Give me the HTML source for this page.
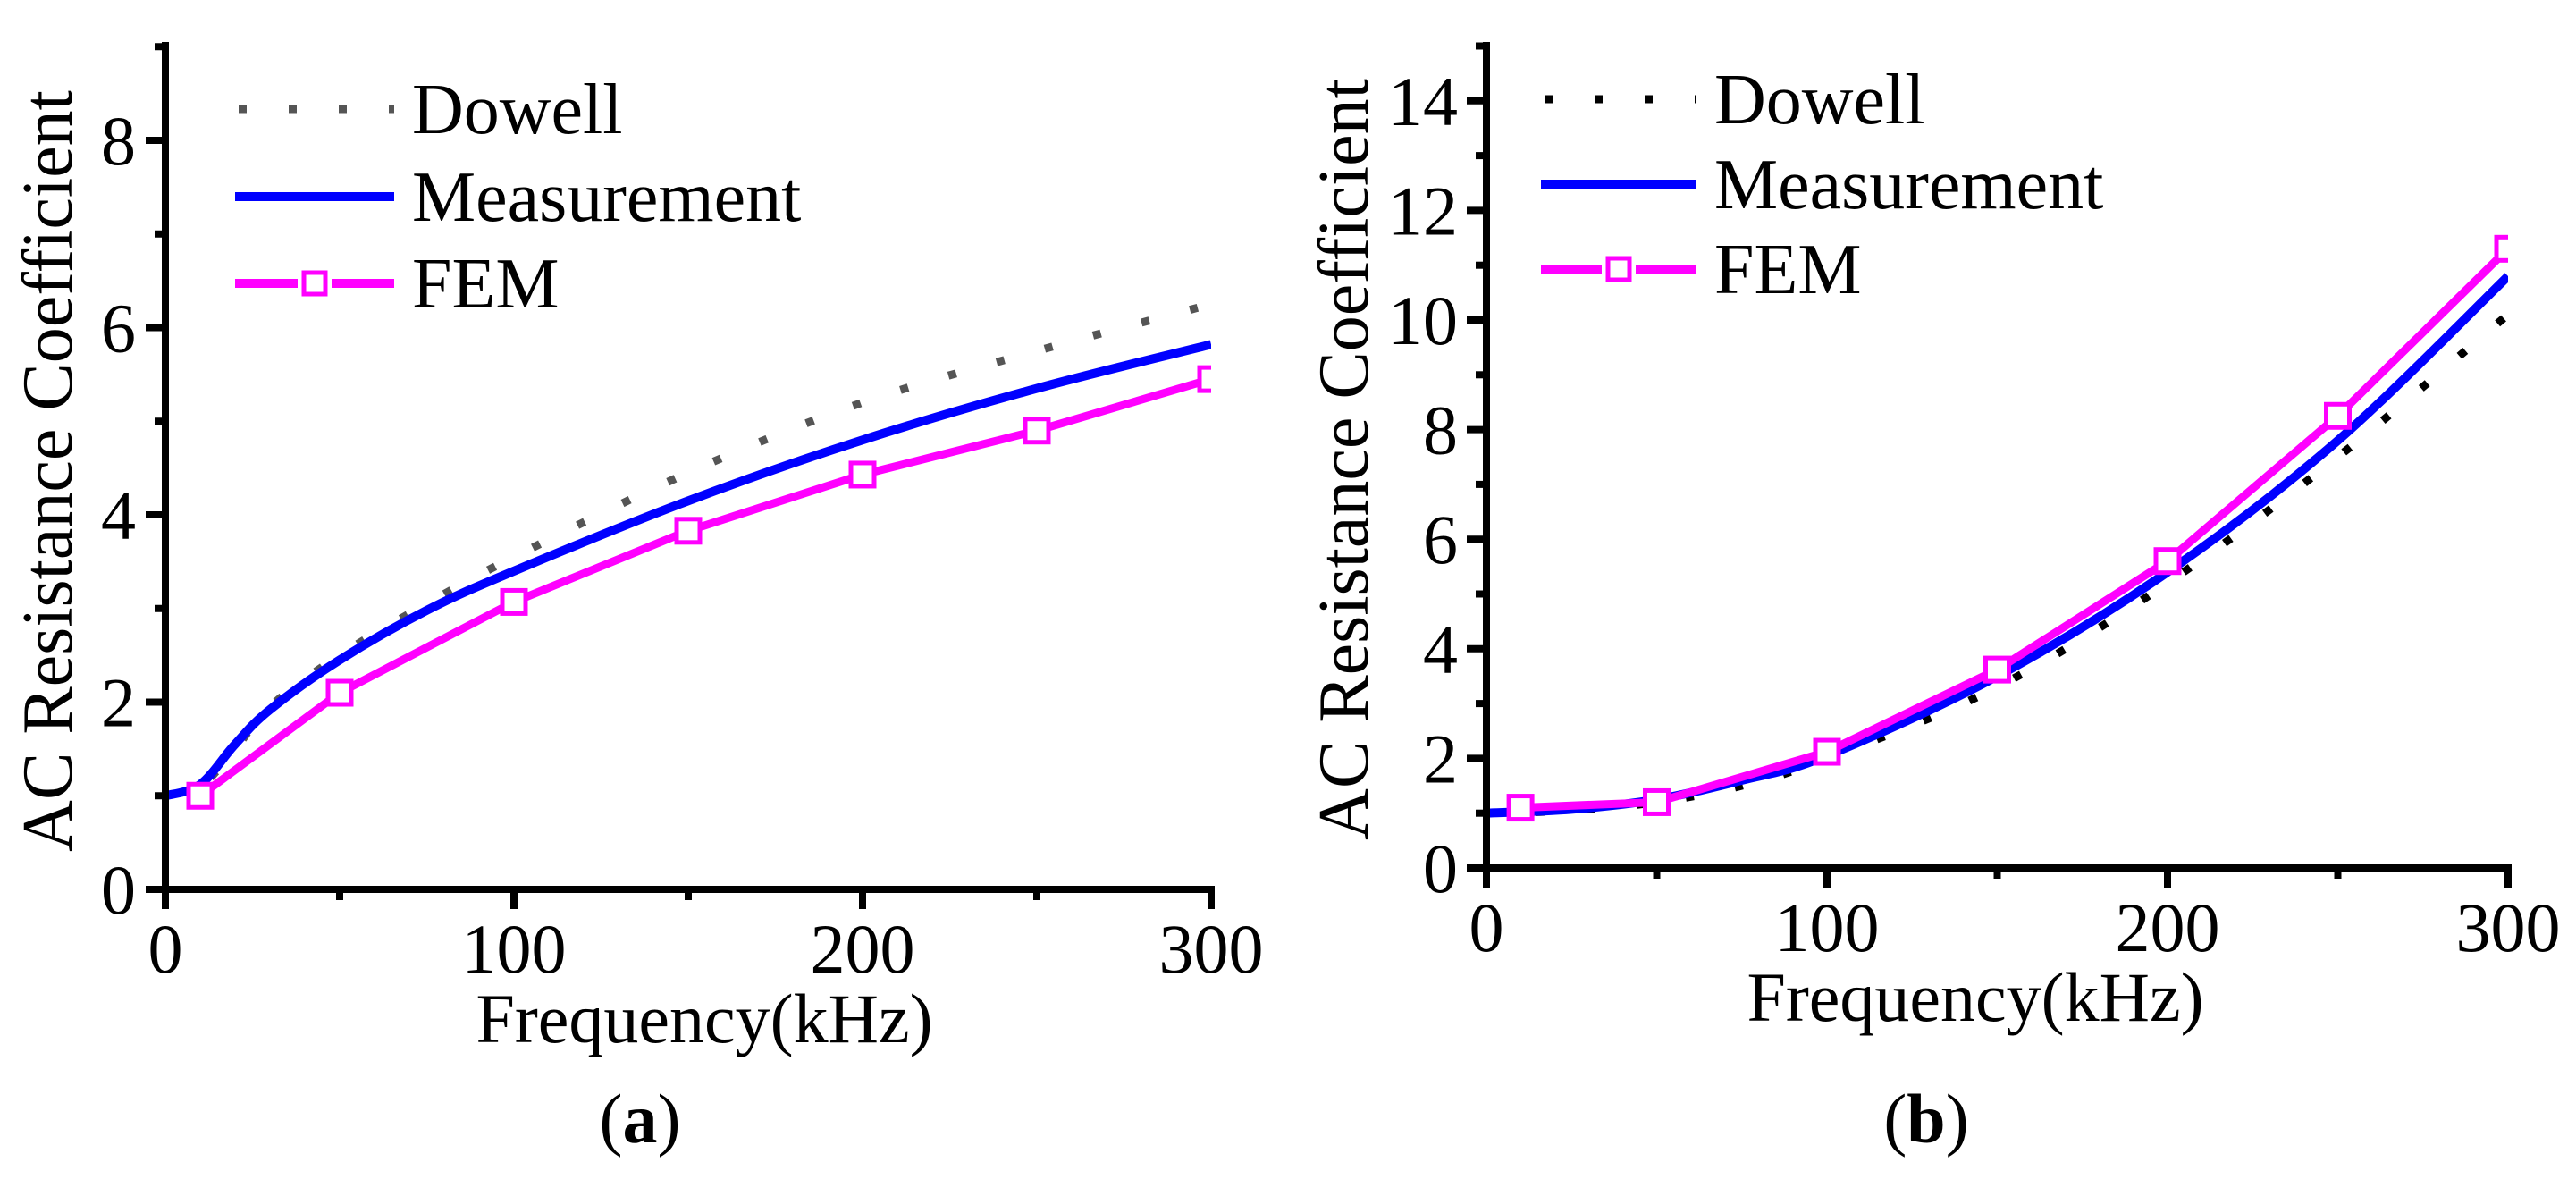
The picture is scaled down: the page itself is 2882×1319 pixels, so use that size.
<!DOCTYPE html>
<html><head><meta charset="utf-8"><style>
html,body{margin:0;padding:0;background:#fff;}
svg, svg text{font-family:"Liberation Serif","DejaVu Serif","Times New Roman",Times,serif;}
</style></head><body>
<svg id="fig" width="2882" height="1314" viewBox="0 0 2882 1314" xmlns="http://www.w3.org/2000/svg" font-family="'Liberation Serif', 'DejaVu Serif', serif">
<defs>
<clipPath id="clipA"><rect x="185" y="40" width="1170" height="960"/></clipPath>
<clipPath id="clipB"><rect x="1663" y="40" width="1143" height="935"/></clipPath>
</defs>
<g id="chartA"></g>
<g id="chartB"></g>
</svg>
<script>
// ---- Chart (a) data ----
const aDowellX = [0, 10, 20, 30, 50, 75, 100, 150, 200, 250, 300];
const aDowellY = [1.0, 1.1, 1.5, 1.95, 2.5, 3.05, 3.55, 4.45, 5.2, 5.75, 6.25];
const aMeasX = [0, 10, 20, 30, 50, 75, 100, 150, 200, 250, 300];
const aMeasY = [1.0, 1.12, 1.55, 1.92, 2.45, 2.98, 3.4, 4.15, 4.8, 5.35, 5.82];
const aFemX = [10, 50, 100, 150, 200, 250, 300];
const aFemY = [1.0, 2.1, 3.07, 3.83, 4.43, 4.9, 5.45];
const aYTicks = [0, 2, 4, 6, 8];
const aXTicks = [0, 100, 200, 300];
// ---- Chart (b) data ----
const bDowellX = [0, 25, 50, 75, 100, 150, 200, 250, 300];
const bDowellY = [1.0, 1.05, 1.2, 1.5, 2.0, 3.3, 5.2, 7.5, 10.1];
const bMeasX = [0, 25, 50, 75, 100, 150, 200, 250, 300];
const bMeasY = [1.0, 1.07, 1.25, 1.6, 2.05, 3.5, 5.4, 7.8, 10.8];
const bFemX = [10, 50, 100, 150, 200, 250, 300];
const bFemY = [1.1, 1.2, 2.12, 3.62, 5.6, 8.25, 11.3];
const bYTicks = [0, 2, 4, 6, 8, 10, 12, 14];
const bXTicks = [0, 100, 200, 300];

const NS = "http://www.w3.org/2000/svg";
const FF = "'Liberation Serif', 'DejaVu Serif', 'Times New Roman', serif";
function mk(tag, attrs, parent){
  const e = document.createElementNS(NS, tag);
  for (const k in attrs) e.setAttribute(k, attrs[k]);
  if (tag === 'text') e.setAttribute('font-family', FF);
  parent.appendChild(e);
  return e;
}
function smoothPath(xs, ys, sx, sy){
  const p = xs.map((x,i)=>[sx(x), sy(ys[i])]);
  let d = "M" + p[0][0] + "," + p[0][1];
  for (let i=0;i<p.length-1;i++){
    const p0 = p[i-1]||p[i], p1=p[i], p2=p[i+1], p3=p[i+2]||p2;
    const c1x = p1[0]+(p2[0]-p0[0])/6, c1y = p1[1]+(p2[1]-p0[1])/6;
    const c2x = p2[0]-(p3[0]-p1[0])/6, c2y = p2[1]-(p3[1]-p1[1])/6;
    d += " C"+c1x+","+c1y+" "+c2x+","+c2y+" "+p2[0]+","+p2[1];
  }
  return d;
}

function drawChart(g, cfg){
  const sx = v => cfg.x0 + (v - 0) / 300 * (cfg.x1 - cfg.x0);
  const sy = v => cfg.y0 - v * cfg.pu;
  const clip = mk('g', {'clip-path': 'url(#'+cfg.clip+')'}, g);
  
  

  const dow = mk('path', {d: smoothPath(cfg.dX, cfg.dY, sx, sy), fill:'none', stroke: cfg.dColor, 'stroke-width': 9, 'stroke-dasharray': '9 47'}, clip);
  
  
  const mea = mk('path', {d: smoothPath(cfg.mX, cfg.mY, sx, sy), fill:'none', stroke:'#0000ff', 'stroke-width': 10, 'stroke-linejoin':'round'}, clip);
  
  
  const fem = mk('polyline', {points: cfg.fX.map((x,i)=>sx(x)+','+sy(cfg.fY[i])).join(' '), fill:'none', stroke:'#ff00ff', 'stroke-width': 9}, clip);
  
  
  cfg.fX.forEach((x,i)=>{
    const r = mk('rect', {x: sx(x)-13, y: sy(cfg.fY[i])-13, width: 26, height: 26, fill:'#fff', stroke:'#ff00ff', 'stroke-width': 5}, clip);
    
    
  });

  const ax = mk('g', {stroke:'#000', 'stroke-width': 8}, g);
  
  
  const yl = mk('line', {x1: cfg.x0, y1: cfg.y0+4, x2: cfg.x0, y2: cfg.top}, ax);
  
  
  const xl = mk('line', {x1: cfg.x0-4, y1: cfg.y0, x2: cfg.x1+4, y2: cfg.y0}, ax);
  
  
  for (let v=0; v<=cfg.ymax+1e-6; v+=cfg.ystep/2){
    const major = cfg.yTicks.indexOf(v) >= 0;
    const t = mk('line', {x1: cfg.x0, x2: cfg.x0 - (major?22:12), y1: sy(v), y2: sy(v)}, ax);
    
    
  }
  for (let v=0; v<=300; v+=50){
    const major = cfg.xTicks.indexOf(v) >= 0;
    const t = mk('line', {x1: sx(v), x2: sx(v), y1: cfg.y0, y2: cfg.y0 + (major?22:12)}, ax);
    
    
  }
  cfg.yTicks.forEach(v=>{
    const t = mk('text', {x: cfg.ylabX, y: sy(v)+27, 'text-anchor':'end', 'font-size': 78, fill:'#000'}, g);
    t.textContent = v;
    
    
  });
  cfg.xTicks.forEach(v=>{
    const t = mk('text', {x: sx(v), y: cfg.y0+93, 'text-anchor':'middle', 'font-size': 78, fill:'#000'}, g);
    t.textContent = v;
    
    
  });
  const xt = mk('text', {x: cfg.xtX, y: cfg.y0+171, 'text-anchor':'middle', 'font-size': 78, fill:'#000'}, g);
  xt.textContent = 'Frequency(kHz)';
  
  
  const yt = mk('text', {x: 0, y: 0, 'text-anchor':'middle', 'font-size': 80, fill:'#000', transform: 'translate('+cfg.ytX+','+cfg.ytY+') rotate(-90)'}, g);
  yt.textContent = 'AC Resistance Coefficient';
  
  

  const lg = mk('g', {}, g);
  
  
  const L = cfg.leg;
  const l1 = mk('line', {x1: L.x1+4, x2: L.x2, y1: L.y[0], y2: L.y[0], stroke: cfg.dColor, 'stroke-width': 9, 'stroke-dasharray': '9 47'}, lg);
  
  
  const l2 = mk('line', {x1: L.x1, x2: L.x2, y1: L.y[1], y2: L.y[1], stroke: '#0000ff', 'stroke-width': 10}, lg);
  
  
  const mid = (L.x1+L.x2)/2;
  const l3 = mk('line', {x1: L.x1, x2: mid-19, y1: L.y[2], y2: L.y[2], stroke: '#ff00ff', 'stroke-width': 10}, lg);
  
  
  const l4 = mk('line', {x1: mid+19, x2: L.x2, y1: L.y[2], y2: L.y[2], stroke: '#ff00ff', 'stroke-width': 10}, lg);
  
  
  const lm = mk('rect', {x: mid-12, y: L.y[2]-12, width: 24, height: 24, fill:'#fff', stroke:'#ff00ff', 'stroke-width': 5}, lg);
  
  
  ['Dowell','Measurement','FEM'].forEach((s,i)=>{
    const t = mk('text', {x: L.tx, y: L.y[i]+27, 'font-size': 80, fill:'#000'}, lg);
    t.textContent = s;
    
    
  });

  const cap = mk('text', {x: cfg.capX, y: 1278, 'text-anchor':'middle', 'font-size': 78, fill:'#000'}, g);
  cap.innerHTML = '(<tspan font-weight="bold">'+cfg.cap+'</tspan>)';
  
  
}

drawChart(document.getElementById('chartA'), {
  x0:185, x1:1355, y0:995, pu:104.75, top:47, ymax:9, ystep:2, clip:'clipA',
  dX:aDowellX, dY:aDowellY, mX:aMeasX, mY:aMeasY, fX:aFemX, fY:aFemY,
  dColor:'#555555', yTicks:aYTicks, xTicks:aXTicks,
  ylabX:152, xtX:788, ytX:80, ytY:527,
  leg:{x1:263, x2:441, y:[122,220,317], tx:461}, capX:716, cap:'a'
});
drawChart(document.getElementById('chartB'), {
  x0:1663, x1:2806, y0:971, pu:61.3, top:47, ymax:15, ystep:2, clip:'clipB',
  dX:bDowellX, dY:bDowellY, mX:bMeasX, mY:bMeasY, fX:bFemX, fY:bFemY,
  dColor:'#000000', yTicks:bYTicks, xTicks:bXTicks,
  ylabX:1631, xtX:2210, ytX:1530, ytY:514,
  leg:{x1:1724, x2:1898, y:[111,206,301], tx:1918}, capX:2155, cap:'b'
});
</script>
</body></html>
